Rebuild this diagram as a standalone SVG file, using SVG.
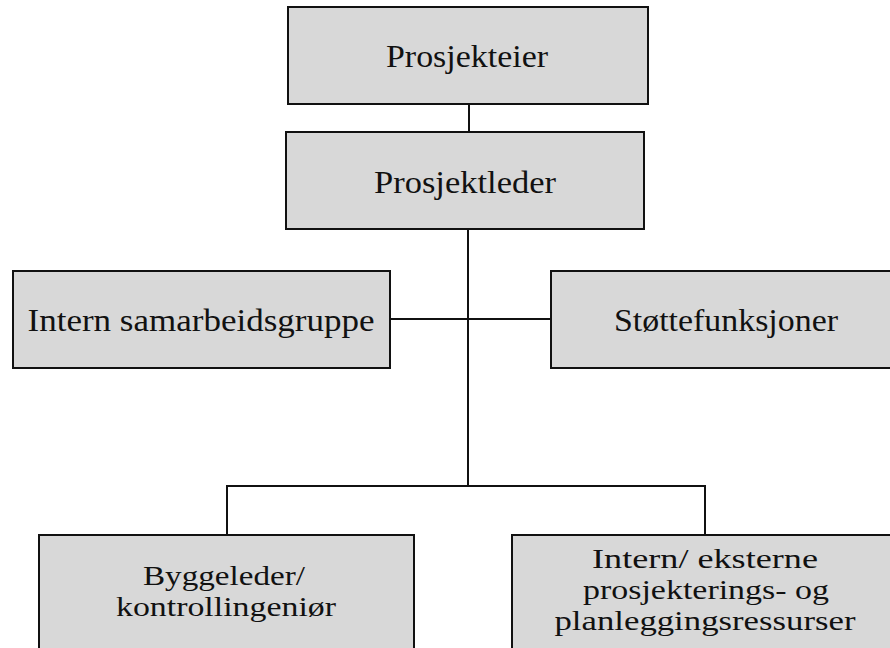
<svg xmlns="http://www.w3.org/2000/svg" width="890" height="648" viewBox="0 0 890 648">
<style>
.box{fill:#d8d8d8;stroke:#111;stroke-width:2}
.lbl{font-family:"Liberation Serif","Times New Roman",serif;font-size:31px;fill:#111;text-anchor:middle}
.ml{font-size:28px}
.con{fill:none;stroke:#111;stroke-width:2}
</style>
<rect width="890" height="648" fill="#fff"/>
<g id="connectors">
<line class="con" x1="469" y1="104" x2="469" y2="132"/>
<line class="con" x1="468" y1="229" x2="468" y2="486"/>
<line class="con" x1="390" y1="319" x2="551" y2="319"/>
<polyline class="con" points="227,535 227,486 705,486 705,535"/>
</g>
<g id="prosjekteier">
<rect class="box" x="288" y="7" width="360" height="97"/>
<text class="lbl" x="467" y="67" textLength="162" lengthAdjust="spacingAndGlyphs">Prosjekteier</text>
</g>
<g id="prosjektleder">
<rect class="box" x="286" y="132" width="358" height="97"/>
<text class="lbl" x="465" y="193" textLength="182" lengthAdjust="spacingAndGlyphs">Prosjektleder</text>
</g>
<g id="intern-samarbeidsgruppe">
<rect class="box" x="13" y="271" width="377" height="97"/>
<text class="lbl" x="201" y="331" textLength="347" lengthAdjust="spacingAndGlyphs">Intern samarbeidsgruppe</text>
</g>
<g id="stottefunksjoner">
<rect class="box" x="551" y="271" width="350" height="97"/>
<text class="lbl" x="726" y="331" textLength="224" lengthAdjust="spacingAndGlyphs">Støttefunksjoner</text>
</g>
<g id="byggeleder">
<rect class="box" x="39" y="535" width="375" height="130"/>
<text class="lbl ml" x="224" y="585" textLength="162" lengthAdjust="spacingAndGlyphs">Byggeleder/</text>
<text class="lbl ml" x="226" y="616" textLength="220" lengthAdjust="spacingAndGlyphs">kontrollingeniør</text>
</g>
<g id="ressurser">
<rect class="box" x="512" y="535" width="390" height="130"/>
<text class="lbl ml" x="705" y="568" textLength="226" lengthAdjust="spacingAndGlyphs">Intern/ eksterne</text>
<text class="lbl ml" x="706" y="599" textLength="246" lengthAdjust="spacingAndGlyphs">prosjekterings- og</text>
<text class="lbl ml" x="705" y="630" textLength="301" lengthAdjust="spacingAndGlyphs">planleggingsressurser</text>
</g>
</svg>
